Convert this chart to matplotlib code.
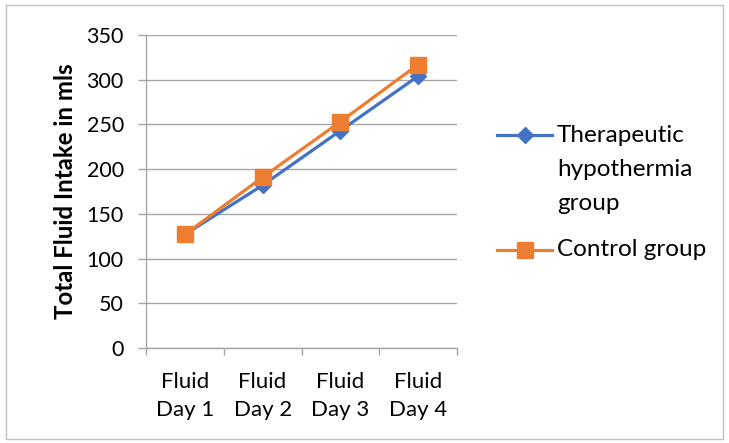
import matplotlib
matplotlib.use("Agg")
import matplotlib.pyplot as plt
from matplotlib.patches import Rectangle
from matplotlib.lines import Line2D

categories = ["Fluid\nDay 1", "Fluid\nDay 2", "Fluid\nDay 3", "Fluid\nDay 4"]
hypothermia = [127, 182, 243, 304]
control = [127, 191, 253, 317]
yticks = [0, 50, 100, 150, 200, 250, 300, 350]
series_names = [["Therapeutic", "hypothermia", "group"], ["Control group"]]

plt.rcParams['font.family'] = ['Lato', 'DejaVu Sans']

W, H = 729, 443
fig = plt.figure(figsize=(W/100, H/100), dpi=100)
ax = fig.add_axes([146/W, 1-348/H, (457-146)/W, (348-35)/H])

x = list(range(len(categories)))
blue = "#4472C4"
orange = "#ED7D31"
ax.plot(x, hypothermia, color=blue, lw=2.3, marker="D", ms=8.5, zorder=3)
ax.plot(x, control, color=orange, lw=2.3, marker="s", ms=11.5, zorder=4)

ax.set_xlim(-0.5, 3.5)
ax.set_ylim(0, 350)
ax.set_yticks(yticks)
ax.set_yticklabels([str(v) for v in yticks], fontsize=15.5)
ax.set_xticks(x)
ax.set_xticklabels(categories, fontsize=16, linespacing=1.5)
ax.set_xticks([-0.5, 0.5, 1.5, 2.5, 3.5], minor=True)
ax.tick_params(axis="x", which="major", length=0, pad=17)
ax.tick_params(axis="x", which="minor", length=5, color="#a6a6a6", width=1)
ax.tick_params(axis="y", length=6, color="#a6a6a6", width=1, pad=10)
ax.grid(axis="y", color="#a6a6a6", lw=1)
ax.set_axisbelow(True)
for s in ["top", "right"]:
    ax.spines[s].set_visible(False)
for s in ["left", "bottom"]:
    ax.spines[s].set_color("#a6a6a6")
    ax.spines[s].set_linewidth(1)

ax.set_ylabel("Total Fluid Intake in mls", fontsize=17.3, fontweight="bold", labelpad=7)

# manual legend (handle aligned with first text line, like Excel)
def fx(px):
    return px / W

def fy(py):
    return 1 - py / H

legend_rows = [(blue, "D", 8.5, series_names[0], 135), (orange, "s", 11.5, series_names[1], 250)]
for color, mk, ms, lines, ypx in legend_rows:
    fig.add_artist(Line2D([fx(497), fx(552)], [fy(ypx), fy(ypx)], transform=fig.transFigure,
                          color=color, lw=2.3))
    fig.add_artist(Line2D([fx(524.5)], [fy(ypx)], transform=fig.transFigure,
                          color=color, marker=mk, ms=ms, lw=0))
    for i, t in enumerate(lines):
        fig.text(fx(557), fy(ypx + i * 34), t, fontsize=17.5, va="center", ha="left")

fig.add_artist(Rectangle((6/W, 4/H), (W-12)/W, (H-9)/H, transform=fig.transFigure,
                         fill=False, edgecolor="#bfbfbf", lw=1))

fig.savefig("out.png", dpi=100)
